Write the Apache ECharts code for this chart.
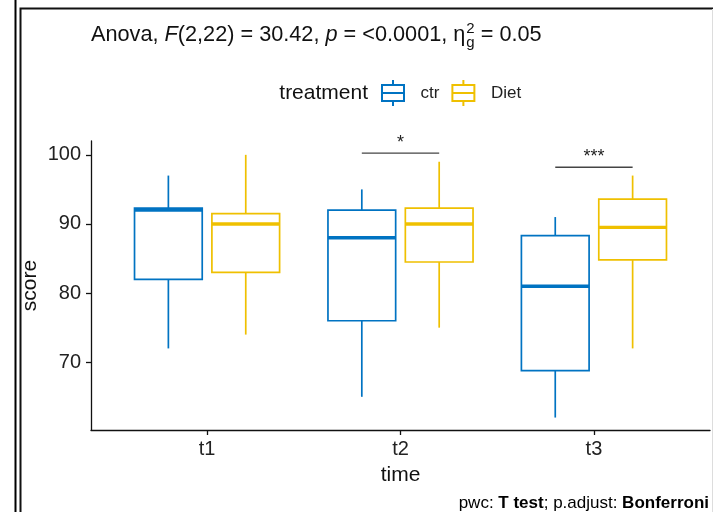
<!DOCTYPE html>
<html>
<head>
<meta charset="utf-8">
<script src="https://cdn.jsdelivr.net/npm/echarts@6/dist/echarts.min.js"></script>
<style>
html,body{margin:0;padding:0;background:#fff;}
#chart{width:713px;height:512px;}
</style>
</head>
<body>
<div id="chart"></div>
<script>
// ---- data ----
const categories = ['t1', 't2', 't3'];
const ctrMin    = [72, 65, 62];
const ctrQ1     = [82, 76, 68.8];
const ctrMedian = [92, 88, 81];
const ctrQ3     = [92.3, 92, 88.3];
const ctrMax    = [97, 95, 91];
const dietMin    = [74, 75, 72];
const dietQ1     = [83, 84.5, 84.8];
const dietMedian = [90, 90, 89.5];
const dietQ3     = [91.5, 92.3, 93.6];
const dietMax    = [100, 99, 97];
const sigGroups = ['t2', 't3'];
const sigY      = [100.25, 98.2];
const sigText   = ['*', '***'];
const yTicks = [70, 80, 90, 100];
const xTicks = [1, 2, 3];

const FONT = '"Liberation Sans", Arial, Helvetica, sans-serif';
const BLUE = '#0073C2';
const YELLOW = '#EFC000';

function boxSeries(name, offset, mins, q1s, meds, q3s, maxs, color) {
  return {
    type: 'custom',
    name: name,
    itemStyle: { color: color },
    encode: { x: 0, y: [1, 2, 3, 4, 5] },
    data: categories.map((c, i) => [i + 1 + offset, mins[i], q1s[i], meds[i], q3s[i], maxs[i]]),
    renderItem: function (params, api) {
      const x = api.value(0);
      const pMin = api.coord([x, api.value(1)]);
      const pQ1 = api.coord([x, api.value(2)]);
      const pMed = api.coord([x, api.value(3)]);
      const pQ3 = api.coord([x, api.value(4)]);
      const pMax = api.coord([x, api.value(5)]);
      const half = api.size([0.35, 0])[0] / 2;
      const cx = pMin[0];
      const col = api.visual('color');
      return {
        type: 'group',
        children: [
          { type: 'line', shape: { x1: cx, y1: pMax[1], x2: cx, y2: pQ3[1] }, style: { stroke: col, lineWidth: 1.7 } },
          { type: 'line', shape: { x1: cx, y1: pQ1[1], x2: cx, y2: pMin[1] }, style: { stroke: col, lineWidth: 1.7 } },
          { type: 'rect', shape: { x: cx - half, y: pQ3[1], width: 2 * half, height: pQ1[1] - pQ3[1] },
            style: { stroke: col, fill: '#fff', lineWidth: 1.7 } },
          { type: 'line', shape: { x1: cx - half, y1: pMed[1], x2: cx + half, y2: pMed[1] }, style: { stroke: col, lineWidth: 3.4 } }
        ]
      };
    }
  };
}

const bracketSeries = {
  type: 'custom',
  name: 'sig',
  silent: true,
  encode: { x: 0, y: 1 },
  data: sigGroups.map((g, i) => [categories.indexOf(g) + 1, sigY[i]]),
  renderItem: function (params, api) {
    const x = api.value(0), y = api.value(1);
    const p1 = api.coord([x - 0.2, y]);
    const p2 = api.coord([x + 0.2, y]);
    return {
      type: 'group',
      children: [
        { type: 'line', shape: { x1: p1[0], y1: p1[1], x2: p2[0], y2: p2[1] }, style: { stroke: '#444', lineWidth: 1.4 } },
        { type: 'text', x: (p1[0] + p2[0]) / 2, y: p1[1] - 1,
          style: { text: sigText[params.dataIndex], fill: '#222', font: '18px ' + FONT, align: 'center', verticalAlign: 'bottom' } }
      ]
    };
  }
};

// ---- title built from measured pieces ----
const mctx = document.createElement('canvas').getContext('2d');
function mw(text, font) { mctx.font = font; return mctx.measureText(text).width; }
const TS = 21.7;
const titleParts = [
  ['Anova, ', ''], ['F', 'italic '], ['(2,22) = 30.42, ', ''], ['p', 'italic '], [' = <0.0001, η', '']
];
const titleEls = [];
let tx = 91;
const ty = 35;
titleParts.forEach(p => {
  const f = p[1] + TS + 'px ' + FONT;
  titleEls.push({ type: 'text', x: tx, y: ty, style: { text: p[0], font: f, fill: '#111', verticalAlign: 'middle' } });
  tx += mw(p[0], f);
});
const smallF = '15px ' + FONT;
titleEls.push({ type: 'text', x: tx + 1, y: ty - 6, style: { text: '2', font: smallF, fill: '#111', verticalAlign: 'middle' } });
titleEls.push({ type: 'text', x: tx + 1, y: ty + 8, style: { text: 'g', font: smallF, fill: '#111', verticalAlign: 'middle' } });
tx += Math.max(mw('2', smallF), mw('g', smallF)) + 1;
titleEls.push({ type: 'text', x: tx, y: ty, style: { text: ' = 0.05', font: TS + 'px ' + FONT, fill: '#111', verticalAlign: 'middle' } });

const iconPath = 'path://M0 4H24V6H0Z M0 20H24V22H0Z M0 6H2V20H0Z M22 6H24V20H22Z M2 12H22V14H2Z M11 0H13V4H11Z M11 22H13V26H11Z';

const chart = echarts.init(document.getElementById('chart'), null, { renderer: 'canvas' });
chart.setOption({
  animation: false,
  backgroundColor: '#fff',
  textStyle: { fontFamily: FONT },
  grid: { left: 91, right: 3, top: 141, bottom: 82, containLabel: false },
  legend: {
    data: [{ name: 'ctr', icon: iconPath }, { name: 'Diet', icon: iconPath }],
    left: 381, top: 80, padding: 0,
    itemWidth: 25, itemHeight: 26, itemGap: 12,
    selectedMode: false,
    textStyle: { fontSize: 17, color: '#222', fontFamily: FONT, padding: [0, 0, 0, 10] }
  },
  xAxis: {
    type: 'value', min: 0.4, max: 3.6,
    name: 'time', nameLocation: 'middle', nameGap: 35, nameMoveOverlap: false,
    nameTextStyle: { fontSize: 21, color: '#111', fontFamily: FONT },
    axisLine: { show: true, lineStyle: { color: '#111', width: 1.3 } },
    axisTick: { show: true, length: 5, customValues: xTicks, lineStyle: { color: '#111', width: 1.3 } },
    axisLabel: { customValues: xTicks, formatter: v => categories[Math.round(v) - 1], fontSize: 20, color: '#222', margin: 9 },
    splitLine: { show: false }
  },
  yAxis: {
    type: 'value', min: 60.2, max: 102,
    name: 'score', nameLocation: 'middle', nameGap: 50, nameRotate: 90, nameMoveOverlap: false,
    nameTextStyle: { fontSize: 21, color: '#111', fontFamily: FONT },
    axisLine: { show: true, lineStyle: { color: '#111', width: 1.3 } },
    axisTick: { show: true, length: 5, customValues: yTicks, lineStyle: { color: '#111', width: 1.3 } },
    axisLabel: { customValues: yTicks, fontSize: 20, color: '#222', margin: 10 },
    splitLine: { show: false }
  },
  graphic: [
    { type: 'line', shape: { x1: 15.5, y1: 0, x2: 15.5, y2: 512 }, style: { stroke: '#000', lineWidth: 2 } },
    { type: 'polyline', shape: { points: [[20.5, 512], [20.5, 8.5], [713, 8.5]] }, style: { stroke: '#111', lineWidth: 2, fill: null } },
    { type: 'line', shape: { x1: 712.5, y1: 9, x2: 712.5, y2: 512 }, style: { stroke: '#ddd', lineWidth: 1 } },
    { type: 'text', x: 368, y: 93, style: { text: 'treatment', font: '21px ' + FONT, fill: '#111', align: 'right', verticalAlign: 'middle' } },
    { type: 'text', x: 709, y: 503, style: {
        text: '{n|pwc: }{b|T test}{n|; p.adjust: }{b|Bonferroni}', align: 'right', verticalAlign: 'middle',
        rich: { n: { fontSize: 17, fontFamily: FONT, color: '#111' }, b: { fontSize: 17, fontWeight: 'bold', fontFamily: FONT, color: '#111' } }
    } }
  ].concat(titleEls),
  series: [
    boxSeries('ctr', -0.2, ctrMin, ctrQ1, ctrMedian, ctrQ3, ctrMax, BLUE),
    boxSeries('Diet', 0.2, dietMin, dietQ1, dietMedian, dietQ3, dietMax, YELLOW),
    bracketSeries
  ]
});
</script>
</body>
</html>
